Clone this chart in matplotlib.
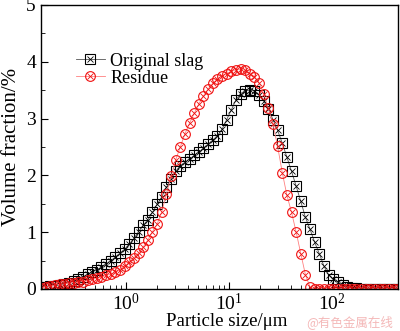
import matplotlib
matplotlib.use("Agg")
import matplotlib.pyplot as plt
from matplotlib.legend_handler import HandlerTuple
from matplotlib.ticker import MultipleLocator

plt.rcParams['font.family'] = ['Liberation Serif', 'DejaVu Serif']
plt.rcParams['mathtext.fontset'] = 'stix'

# particle size, um
size = [0.151, 0.168, 0.186, 0.207, 0.229, 0.254, 0.282, 0.313, 0.347, 0.385,
        0.427, 0.473, 0.525, 0.582, 0.646, 0.716, 0.794, 0.881, 0.977, 1.084,
        1.202, 1.334, 1.479, 1.641, 1.820, 2.018, 2.239, 2.483, 2.754, 3.055,
        3.388, 3.758, 4.169, 4.624, 5.129, 5.689, 6.310, 6.998, 7.762, 8.610,
        9.550, 10.59, 11.75, 13.03, 14.45, 16.03, 17.78, 19.72, 21.88, 24.27,
        26.92, 29.85, 33.11, 36.73, 40.74, 45.19, 50.12, 55.59, 61.66, 68.39,
        75.86, 84.14, 93.33, 103.5, 114.8, 127.4, 141.3, 156.7, 173.8, 192.8,
        213.8, 237.1, 263.0, 291.7, 323.6, 358.9, 398.1, 441.6]

# volume fraction, %
original = [0.03, 0.04, 0.05, 0.06, 0.07, 0.09, 0.11, 0.14, 0.17, 0.21,
            0.26, 0.30, 0.34, 0.38, 0.44, 0.50, 0.56, 0.63, 0.70, 0.79,
            0.89, 1.01, 1.12, 1.22, 1.35, 1.49, 1.62, 1.79, 1.94, 2.07,
            2.17, 2.23, 2.29, 2.35, 2.41, 2.48, 2.55, 2.62, 2.70, 2.81,
            2.98, 3.15, 3.33, 3.44, 3.49, 3.50, 3.49, 3.42, 3.31, 3.17,
            2.98, 2.79, 2.57, 2.32, 2.07, 1.81, 1.54, 1.26, 1.05, 0.82,
            0.62, 0.40, 0.25, 0.17, 0.12, 0.07, 0.04, 0.02, 0.01, 0.0,
            0.0, 0.0, 0.0, 0.0, 0.0, 0.0, 0.0, 0.0]

residue = [0.02, 0.04, 0.05, 0.07, 0.08, 0.09, 0.10, 0.11, 0.12, 0.13,
           0.15, 0.17, 0.19, 0.21, 0.24, 0.26, 0.29, 0.34, 0.40, 0.47,
           0.55, 0.63, 0.74, 0.86, 1.01, 1.14, 1.36, 1.67, 1.98, 2.27,
           2.50, 2.73, 2.92, 3.09, 3.26, 3.40, 3.52, 3.62, 3.69, 3.75,
           3.79, 3.83, 3.86, 3.87, 3.85, 3.79, 3.74, 3.63, 3.44, 3.18,
           2.90, 2.51, 2.05, 1.65, 1.35, 1.00, 0.62, 0.25, 0.03, 0.0,
           0.0, 0.0, 0.0, 0.0, 0.0, 0.0, 0.0, 0.0, 0.0, 0.0,
           0.0, 0.0, 0.0, 0.0, 0.0, 0.0, 0.0, 0.0]

fig = plt.figure(figsize=(4.0, 3.31), dpi=100)
ax = fig.add_axes([0.102, 0.127, 0.893, 0.858])

red = '#f01010'
l1, = ax.plot(size, original, color='#555555', lw=0.6, marker='s', ms=6.5,
              mfc='none', mec='black', mew=0.8)
l1x, = ax.plot(size, original, ls='none', marker='x', ms=5.0, mec='black', mew=0.6)
l2, = ax.plot(size, residue, color='#ff8080', lw=0.6, marker='o', ms=7.0,
              mfc='none', mec=red, mew=0.8)
l2x, = ax.plot(size, residue, ls='none', marker='x', ms=4.6, mec=red, mew=0.6)

ax.set_xscale('log')
ax.set_xlim(0.15, 440)
ax.set_ylim(0, 5)
ax.yaxis.set_major_locator(MultipleLocator(1))
ax.yaxis.set_minor_locator(MultipleLocator(0.5))
ax.tick_params(which='both', direction='in', top=False, right=False, labelsize=14)
ax.tick_params(axis='x', pad=3)
ax.tick_params(which='major', length=5, width=0.8)
ax.tick_params(which='minor', length=3, width=0.6)
for s in ax.spines.values():
    s.set_linewidth(1.0)

ax.set_xlabel('Particle size/μm', fontsize=13.5)
ax.xaxis.set_label_coords(0.52, -0.083)
ax.set_ylabel('Volume fraction/%', fontsize=15, labelpad=4)

ax.legend([(l1, l1x), (l2, l2x)], ['Original slag', 'Residue'],
          handler_map={tuple: HandlerTuple(ndivide=1)},
          loc='upper left', bbox_to_anchor=(0.068, 0.87), frameon=False,
          fontsize=13, handlelength=1.6, handletextpad=0.3, labelspacing=0.0,
          borderpad=0.1)

fig.text(0.983, 0.006, '@有色金属在线', color='#f4b8b8', fontsize=9,
         ha='right', va='bottom', family=['Noto Sans CJK SC', 'DejaVu Sans'])

fig.savefig('out.png', dpi=100)
